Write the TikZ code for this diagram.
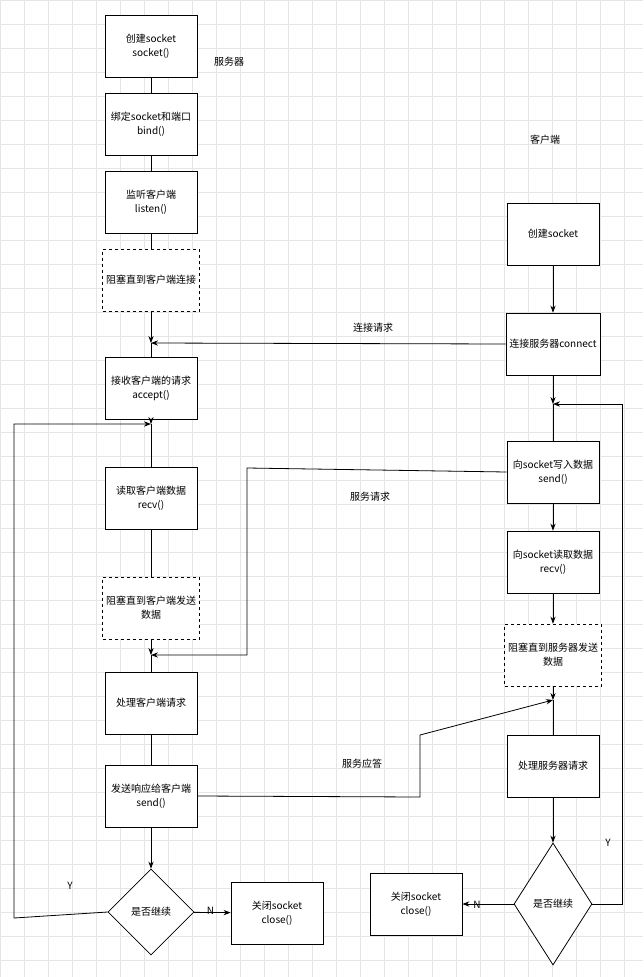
\documentclass[tikz,border=0pt]{standalone}
\usepackage{fontspec}
\setmainfont{Noto Sans CJK SC}
\usetikzlibrary{shapes.geometric,arrows.meta}
\begin{document}
\begin{tikzpicture}[x=1pt,y=-1pt,
 box/.style={draw,thick,minimum width=92pt,minimum height=62pt,align=center,font=\fontsize{10}{14}\selectfont,fill=white},
 dbox/.style={box,dashed},
 dia/.style={draw,thick,diamond,aspect=0.85,minimum width=86pt,minimum height=86pt,font=\fontsize{10}{12}\selectfont,fill=white,inner sep=0pt},
 lab/.style={font=\fontsize{10}{12}\selectfont},
 ar/.style={thick,-{Stealth[length=7pt]}},
 ln/.style={thick}]
\fill[white] (0,0) rectangle (643,977);
\useasboundingbox (0,0) rectangle (643,977);
\foreach \i in {0,24,...,960} \draw[black!10] (0,\i) -- (643,\i);
\foreach \i in {0,24,...,640} \draw[black!10] (\i,0) -- (\i,977);
% server
\node[box] (s1) at (151,46) {创建socket\\socket()};
\node[box] (s2) at (151,124) {绑定socket和端口\\bind()};
\node[box] (s3) at (151,202) {监听客户端\\listen()};
\node[dbox] (s4) at (151,280) {阻塞直到客户端连接};
\node[box] (s5) at (151,388) {接收客户端的请求\\accept()};
\node[box] (s6) at (151,498) {读取客户端数据\\recv()};
\node[dbox] (s7) at (151,608) {阻塞直到客户端发送\\数据};
\node[box] (s8) at (151,703) {处理客户端请求};
\node[box] (s9) at (151,796) {发送响应给客户端\\send()};
\node[dia] (sd) at (151,912) {是否继续};
\node[box] (sc) at (277,913) {关闭socket\\close()};
\node[lab] at (229,62) {服务器};
% client
\node[lab] at (545,140) {客户端};
\node[box] (c1) at (553,234) {创建socket};
\node[box] (c2) at (553,344) {连接服务器connect};
\node[box] (c3) at (553,472) {向socket写入数据\\send()};
\node[box] (c4) at (553,562) {向socket读取数据\\recv()};
\node[dbox] (c5) at (553,655) {阻塞直到服务器发送\\数据};
\node[box] (c6) at (553,766) {处理服务器请求};
\node[dia,minimum width=78pt,minimum height=122pt,aspect=0.64] (cd) at (553,904) {是否继续};
\node[box] (cc) at (416,904) {关闭socket\\close()};
% server flow
\draw[ln] (s1)--(s2); \draw[ln] (s2)--(s3); \draw[ln] (s3)--(s4);
\coordinate (j1) at (151,343);
\draw[ar] (s4)--(j1); \draw[ln] (j1)--(s5);
\coordinate (j2) at (151,424);
\draw[ar] (s5)--(j2); \draw[ln] (j2)--(s6);
\draw[ln] (s6)--(s7);
\coordinate (j3) at (151,655);
\draw[ar] (s7)--(j3); \draw[ln] (j3)--(s8);
\draw[ln] (s8)--(s9);
\draw[ar] (s9)--(sd);
\draw[ar] (sd)--node[lab,pos=0.45,above=-6pt]{N}(sc);
\coordinate (ly1) at (14,918); \coordinate (ly2) at (14,424);
\draw[ar] (sd.west)--(ly1)--(ly2)--(j2);
\node[lab] at (70,886) {Y};
% client flow
\draw[ar] (c1)--(c2);
\coordinate (k1) at (553,404);
\draw[ar] (c2)--(k1); \draw[ln] (k1)--(c3);
\draw[ar] (c3)--(c4);
\draw[ar] (c4)--(c5);
\coordinate (k2) at (553,700);
\draw[ar] (c5)--(k2); \draw[ln] (k2)--(c6);
\draw[ar] (c6)--(cd);
\draw[ar] (cd)--(cc);
\node[lab] at (477,905) {N};
\coordinate (m1) at (622,904); \coordinate (m2) at (622,404);
\draw[ar] (cd.east)--(m1)--(m2)--(k1);
\node[lab] at (608,843) {Y};
% messages
\draw[ar] (c2.west)--(j1);
\node[lab] at (373,328) {连接请求};
\coordinate (a1) at (247,468); \coordinate (a2) at (247,655);
\draw[ar] (c3.west)--(a1)--(a2)--(j3);
\node[lab] at (370,497) {服务请求};
\coordinate (b1) at (420,797); \coordinate (b2) at (420,735);
\draw[ar] (s9.east)--(b1)--(b2)--(k2);
\node[lab] at (362,764) {服务应答};
\end{tikzpicture}
\end{document}
